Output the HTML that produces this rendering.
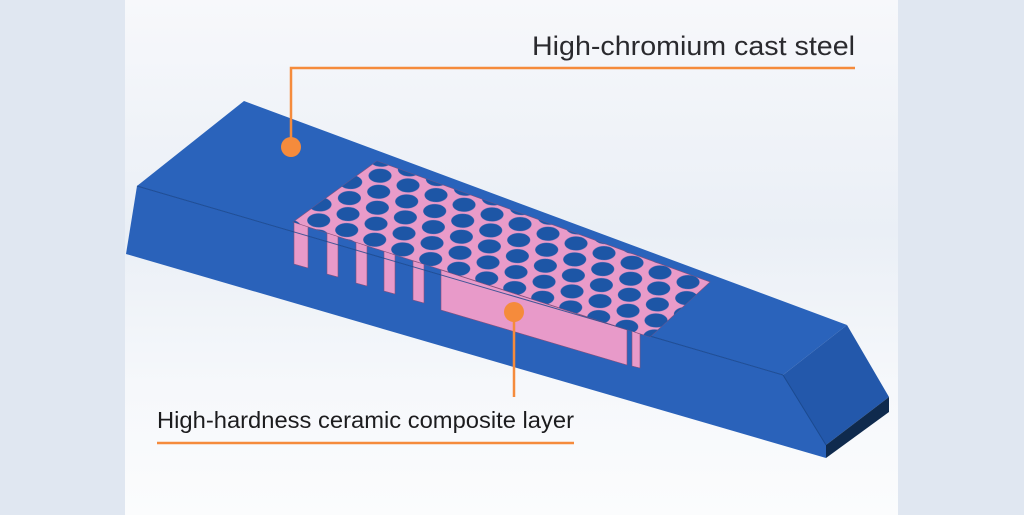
<!DOCTYPE html>
<html><head><meta charset="utf-8"><style>
html,body{margin:0;padding:0;width:1024px;height:515px;overflow:hidden;background:#f4f6f9}
svg{display:block}
</style></head><body>
<svg width="1024" height="515" viewBox="0 0 1024 515" xmlns="http://www.w3.org/2000/svg">
<defs>
<linearGradient id="bg" x1="0" y1="0" x2="0" y2="1">
<stop offset="0" stop-color="#f7f8fb"/><stop offset="0.45" stop-color="#eaeff6"/><stop offset="0.75" stop-color="#f6f8fb"/><stop offset="1" stop-color="#fbfcfd"/>
</linearGradient>
<pattern id="holes" patternUnits="userSpaceOnUse" width="1" height="1" patternTransform="matrix(28,9.67,-1.33,16,366.7,162.9)">
<ellipse cx="0" cy="0" rx="11.5" ry="7" fill="#1d56a6" transform="matrix(0.03471,-0.02098,0.002886,0.06075,0.5,0.5)"/>
</pattern>
</defs>
<rect width="1024" height="515" fill="url(#bg)"/>
<rect x="0" y="0" width="125" height="515" fill="#e0e7f1"/>
<rect x="898" y="0" width="126" height="515" fill="#e0e7f1"/>

<!-- block -->
<polygon points="244,101 847,325 783,375 137,186" fill="#2a63bb"/>
<polygon points="137,186 783,375 826,445 826,458 126,254" fill="#2a62ba"/>
<polygon points="783,375 847,325 889,397 826,445" fill="#2358ab"/>
<polygon points="826,445 889,397 889,412 826,458" fill="#0f2a4d"/>
<line x1="783" y1="375" x2="826" y2="445" stroke="#1b4a90" stroke-width="1"/>

<!-- pink fins and wall -->
<g fill="#e89ac9" stroke="#8a4f7a" stroke-width="0.6">
<polygon points="294,222 308,226 308,268 294,264"/>
<polygon points="327,233 338,236 338,277 327,274"/>
<polygon points="356,242 367,246 367,286 356,283"/>
<polygon points="384,251 395,255 395,294 384,291"/>
<polygon points="413,261 424,264 424,303 413,300"/>
<polygon points="441,270 627,330 627,365 441,310"/>
<polygon points="632,331 640,334 640,368 632,366"/>
</g>
<line x1="137" y1="186" x2="783" y2="375" stroke="#1a468a" stroke-width="1" opacity="0.8"/>

<!-- plate -->
<polygon points="377,161 710,282 650,337 293,222" fill="#e99bc9" stroke="#8a4f7a" stroke-width="0.6"/>
<polygon points="377,161 710,282 650,337 293,222" fill="url(#holes)"/>

<!-- callouts -->
<g stroke="#f58b3c" stroke-width="2.5" fill="none">
<polyline points="291,147 291,68 855,68"/>
<line x1="514" y1="312" x2="514" y2="397"/>
<line x1="157" y1="443" x2="574" y2="443"/>
</g>
<circle cx="291" cy="147" r="10" fill="#f58b3c"/>
<circle cx="514" cy="312" r="10" fill="#f58b3c"/>
<g font-family="Liberation Sans, sans-serif" fill="#2a2a2e">
<text x="532" y="55" font-size="27" textLength="323" lengthAdjust="spacingAndGlyphs">High-chromium cast steel</text>
<text x="157" y="428" font-size="23" textLength="417" lengthAdjust="spacingAndGlyphs" fill="#1c1c1e">High-hardness ceramic composite layer</text>
</g>
</svg>
</body></html>
